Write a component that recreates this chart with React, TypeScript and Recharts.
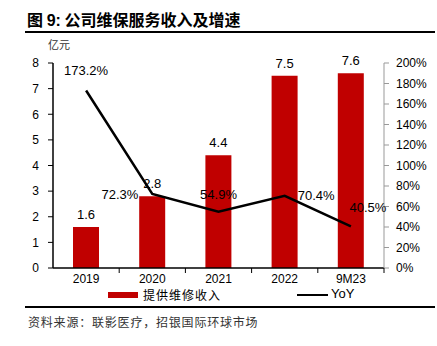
import { ComposedChart, Bar, Line, XAxis, YAxis, LabelList } from 'recharts'

const categories = ['2019', '2020', '2021', '2022', '9M23']
const revenue = [1.6, 2.8, 4.4, 7.5, 7.6]
const yoy = [173.2, 72.3, 54.9, 70.4, 40.5]
const leftTicks = [0, 1, 2, 3, 4, 5, 6, 7, 8]
const rightTicks = [0, 20, 40, 60, 80, 100, 120, 140, 160, 180, 200]

const data = categories.map((c, i) => ({ name: c, revenue: revenue[i], yoy: yoy[i] }))

const W = 437
const H = 346
const margin = { top: 63, right: 8, bottom: 58, left: 23 }
const leftW = 30
const rightW = 45
const plotW = W - margin.left - margin.right - leftW - rightW
const band = plotW / categories.length

const font = '"Liberation Sans", Arial, sans-serif'
const cjk = '"Noto Sans CJK SC", "Noto Sans", sans-serif'

// label placement around each yoy point: [dx, dy, anchor]
const yoyPos: [number, number, string][] = [
  [0, -20, 'middle'],
  [-14, 1, 'end'],
  [0, -17, 'middle'],
  [13, 0, 'start'],
  [17, -19, 'middle'],
]

function XTick(props: any) {
  const { x, y, payload } = props
  const bx = x + band / 2
  return (
    <g>
      <line x1={bx} x2={bx} y1={y} y2={y + 5} stroke="#000" strokeWidth={1} />
      <text x={x} y={y + 15} textAnchor="middle" fontSize={12} fill="#000" fontFamily={font}>
        {payload.value}
      </text>
    </g>
  )
}

function YoyLabel(props: any) {
  const { x, y, index, value } = props
  const [dx, dy, anchor] = yoyPos[index]
  return (
    <text
      x={x + dx}
      y={y + dy}
      dy="0.35em"
      textAnchor={anchor as any}
      fontSize={13}
      fill="#000"
      fontFamily={font}
    >
      {value.toFixed(1)}%
    </text>
  )
}

export default function App() {
  return (
    <div style={{ position: 'absolute', left: 0, top: 0, width: W, height: H, background: '#fff', fontFamily: font }}>
      <div style={{ position: 'absolute', left: 27, top: 7, fontSize: 16, fontWeight: 'bold', fontFamily: cjk, color: '#000', whiteSpace: 'nowrap' }}>
        图 <span style={{ fontFamily: font }}>9:</span> 公司维保服务收入及增速
      </div>
      <div style={{ position: 'absolute', left: 25, top: 31, width: 410, height: 2, background: '#000' }} />
      <div style={{ position: 'absolute', left: 48, top: 36, fontSize: 11, fontFamily: cjk, color: '#333' }}>亿元</div>

      <div style={{ position: 'absolute', left: 0, top: 0 }}>
        <ComposedChart width={W} height={H} data={data} margin={margin} barCategoryGap={20}>
          <XAxis
            dataKey="name"
            xAxisId={0}
            tick={<XTick />}
            tickLine={false}
            tickSize={0}
            tickMargin={0}
            axisLine={{ stroke: '#000', strokeWidth: 1.5 }}
            height={20}
            interval={0}
          />
          <YAxis
            yAxisId="left"
            domain={[0, 8]}
            ticks={leftTicks}
            width={leftW}
            tickSize={5}
            tickMargin={9}
            tickLine={{ stroke: '#000' }}
            axisLine={{ stroke: '#000', strokeWidth: 1.5 }}
            tick={{ fontSize: 12, fill: '#000', fontFamily: font }}
            interval={0}
          />
          <YAxis
            yAxisId="right"
            orientation="right"
            domain={[0, 200]}
            ticks={rightTicks}
            width={rightW}
            tickSize={5}
            tickMargin={7}
            tickLine={{ stroke: '#999' }}
            axisLine={{ stroke: '#999' }}
            tick={{ fontSize: 12, fill: '#000', fontFamily: font }}
            tickFormatter={(v: number) => `${v}%`}
            interval={0}
          />
          <Bar yAxisId="left" dataKey="revenue" fill="#C00000" barSize={26} isAnimationActive={false}>
            <LabelList dataKey="revenue" position="top" offset={8} fontSize={13} fill="#000" fontFamily={font} formatter={(v: any) => Number(v).toFixed(1)} />
          </Bar>
          <Line yAxisId="right" dataKey="yoy" stroke="#000" strokeWidth={2.5} dot={false} isAnimationActive={false}>
            <LabelList dataKey="yoy" content={<YoyLabel />} />
          </Line>
        </ComposedChart>
      </div>

      <div style={{ position: 'absolute', left: 108, top: 292, width: 30, height: 6, background: '#C00000' }} />
      <div style={{ position: 'absolute', left: 143, top: 286, fontSize: 12, fontFamily: cjk, letterSpacing: 1, color: '#000' }}>提供维修收入</div>
      <div style={{ position: 'absolute', left: 297, top: 294, width: 31, height: 2, background: '#000' }} />
      <div style={{ position: 'absolute', left: 331, top: 286, fontSize: 13, fontFamily: font, color: '#000' }}>YoY</div>

      <div style={{ position: 'absolute', left: 25, top: 306, width: 410, height: 2, background: '#000' }} />
      <div style={{ position: 'absolute', left: 28, top: 313, fontSize: 12, fontFamily: cjk, letterSpacing: 0.8, color: '#333', whiteSpace: 'nowrap' }}>
        资料来源：联影医疗，招银国际环球市场
      </div>
    </div>
  )
}
